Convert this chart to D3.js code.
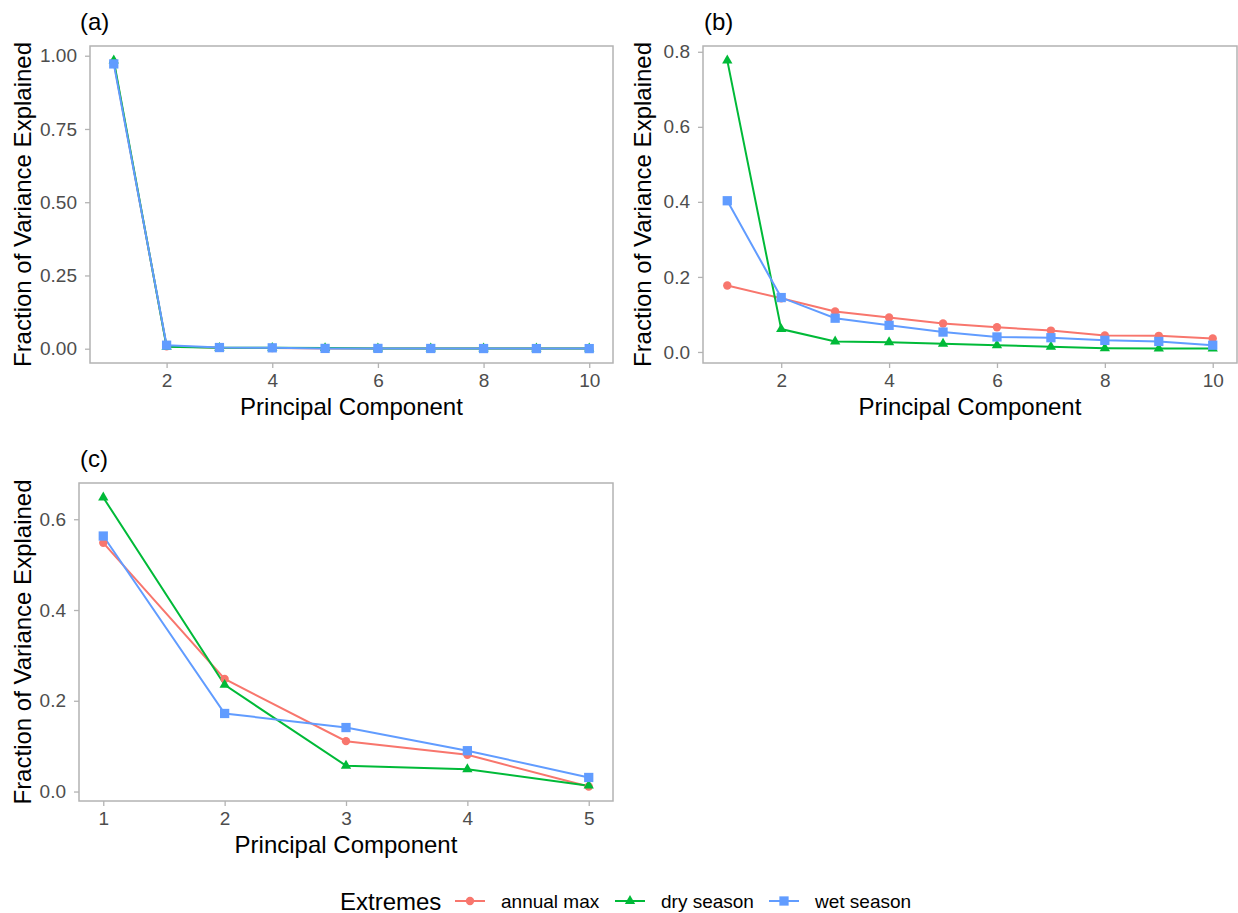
<!DOCTYPE html>
<html lang="en">
  <head>
    <meta charset="utf-8">
    <script src="https://d3js.org/d3.v7.min.js"></script>
    <style>
      body { margin: 0; background: #fff; }
      text { font-family: "Liberation Sans", Arial, sans-serif; }
    </style>
  </head>
  <body>
    <div id="chart">
      <svg width="1238" height="913"></svg>
    </div>
    <script type="text/javascript">
      // Data
      var series = ["annual max", "dry season", "wet season"];
      var colors = ["#F8766D", "#00BA38", "#619CFF"];
      var shapes = [d3.symbolCircle, d3.symbolTriangle, d3.symbolSquare];
      var shapeSizes = [55, 46, 86];

      var pcA = [1, 2, 3, 4, 5, 6, 7, 8, 9, 10];
      var annualA = [0.978, 0.008, 0.003, 0.002, 0.001, 0.001, 0.0008, 0.0006, 0.0005, 0.0004];
      var dryA = [0.984, 0.007, 0.003, 0.003, 0.002, 0.001, 0.001, 0.0008, 0.0006, 0.0005];
      var wetA = [0.972, 0.012, 0.004, 0.003, 0.001, 0.001, 0.0008, 0.0006, 0.0005, 0.0004];

      var pcB = [1, 2, 3, 4, 5, 6, 7, 8, 9, 10];
      var annualB = [0.177, 0.143, 0.108, 0.092, 0.076, 0.066, 0.057, 0.044, 0.043, 0.036];
      var dryB = [0.777, 0.061, 0.028, 0.026, 0.022, 0.018, 0.014, 0.010, 0.009, 0.009];
      var wetB = [0.403, 0.145, 0.090, 0.071, 0.053, 0.040, 0.038, 0.031, 0.028, 0.018];

      var pcC = [1, 2, 3, 4, 5];
      var annualC = [0.548, 0.248, 0.111, 0.081, 0.011];
      var dryC = [0.648, 0.235, 0.057, 0.049, 0.013];
      var wetC = [0.563, 0.172, 0.141, 0.090, 0.031];

      var xTicksA = [2, 4, 6, 8, 10];
      var yTicksA = [0, 0.25, 0.5, 0.75, 1];
      var xTicksB = [2, 4, 6, 8, 10];
      var yTicksB = [0, 0.2, 0.4, 0.6, 0.8];
      var xTicksC = [1, 2, 3, 4, 5];
      var yTicksC = [0, 0.2, 0.4, 0.6];

      var svg = d3.select("svg");

      // Panel layout
      var panels = [
        {tag: "(a)", tagX: 80, titleX: 31, x0: 90, x1: 613, y0: 46, y1: 363, pc: pcA,
         vals: [annualA, dryA, wetA], xt: xTicksA, yt: yTicksA, yfmt: d3.format(".2f")},
        {tag: "(b)", tagX: 704, titleX: 651, x0: 703, x1: 1237, y0: 46, y1: 363, pc: pcB,
         vals: [annualB, dryB, wetB], xt: xTicksB, yt: yTicksB, yfmt: d3.format(".1f")},
        {tag: "(c)", tagX: 80, titleX: 31, x0: 79, x1: 613, y0: 483, y1: 801, pc: pcC,
         vals: [annualC, dryC, wetC], xt: xTicksC, yt: yTicksC, yfmt: d3.format(".1f")}
      ];

      function expand(ext) {
        var r = ext[1] - ext[0];
        return [ext[0] - 0.05 * r, ext[1] + 0.05 * r];
      }

      panels.forEach(function(p) {
        var allY = d3.merge(p.vals);
        var xScale = d3.scaleLinear().domain(expand(d3.extent(p.pc))).range([p.x0, p.x1]);
        var yScale = d3.scaleLinear().domain(expand(d3.extent(allY))).range([p.y1, p.y0]);

        var g = svg.append("g");

        // axes
        var xAxis = d3.axisBottom(xScale).tickValues(p.xt).tickSize(5).tickPadding(6)
          .tickFormat(d3.format("d"));
        var yAxis = d3.axisLeft(yScale).tickValues(p.yt).tickSize(5).tickPadding(8)
          .tickFormat(p.yfmt);
        var gx = g.append("g").attr("transform", `translate(0, ${p.y1})`).call(xAxis);
        var gy = g.append("g").attr("transform", `translate(${p.x0}, 0)`).call(yAxis);
        [gx, gy].forEach(function(a) {
          a.select(".domain").remove();
          a.selectAll("line").attr("stroke", "#b3b3b3").attr("stroke-width", 1.3);
          a.selectAll("text").attr("fill", "#4d4d4d").style("font-size", "19px");
        });

        // panel border
        g.append("rect")
          .attr("x", p.x0).attr("y", p.y0)
          .attr("width", p.x1 - p.x0).attr("height", p.y1 - p.y0)
          .attr("fill", "none").attr("stroke", "#b3b3b3").attr("stroke-width", 1.5);

        // lines
        var line = d3.line()
          .x(function(d, i) { return xScale(p.pc[i]); })
          .y(function(d) { return yScale(d); });
        p.vals.forEach(function(v, k) {
          g.append("path").datum(v)
            .attr("d", line)
            .attr("fill", "none")
            .attr("stroke", colors[k])
            .attr("stroke-width", 2);
        });
        // points
        p.vals.forEach(function(v, k) {
          g.selectAll(null).data(v).enter().append("path")
            .attr("d", d3.symbol().type(shapes[k]).size(shapeSizes[k]))
            .attr("transform", function(d, i) {
              return `translate(${xScale(p.pc[i])}, ${yScale(d)})`;
            })
            .attr("fill", colors[k]);
        });

        // titles
        g.append("text")
          .attr("x", (p.x0 + p.x1) / 2).attr("y", p.y1 + 52)
          .attr("text-anchor", "middle")
          .style("font-size", "24px").attr("fill", "#000")
          .text("Principal Component");
        g.append("text")
          .attr("transform", `translate(${p.titleX}, ${(p.y0 + p.y1) / 2}) rotate(-90)`)
          .attr("text-anchor", "middle")
          .style("font-size", "24px").attr("fill", "#000")
          .text("Fraction of Variance Explained");
        g.append("text")
          .attr("x", p.tagX).attr("y", p.y0 - 16)
          .style("font-size", "24px").attr("fill", "#000")
          .text(p.tag);
      });

      // Legend
      var lg = svg.append("g").attr("transform", "translate(0, 901)");
      lg.append("text").attr("x", 340).attr("y", 8.5)
        .style("font-size", "24px").text("Extremes");
      var keyX = [455, 615, 769];
      series.forEach(function(s, k) {
        lg.append("line")
          .attr("x1", keyX[k]).attr("x2", keyX[k] + 30)
          .attr("y1", 0).attr("y2", 0)
          .attr("stroke", colors[k]).attr("stroke-width", 2);
        lg.append("path")
          .attr("d", d3.symbol().type(shapes[k]).size(shapeSizes[k]))
          .attr("transform", `translate(${keyX[k] + 15}, 0)`)
          .attr("fill", colors[k]);
        lg.append("text")
          .attr("x", keyX[k] + 46).attr("y", 7)
          .style("font-size", "19px").text(s);
      });
    </script>
  </body>
</html>
